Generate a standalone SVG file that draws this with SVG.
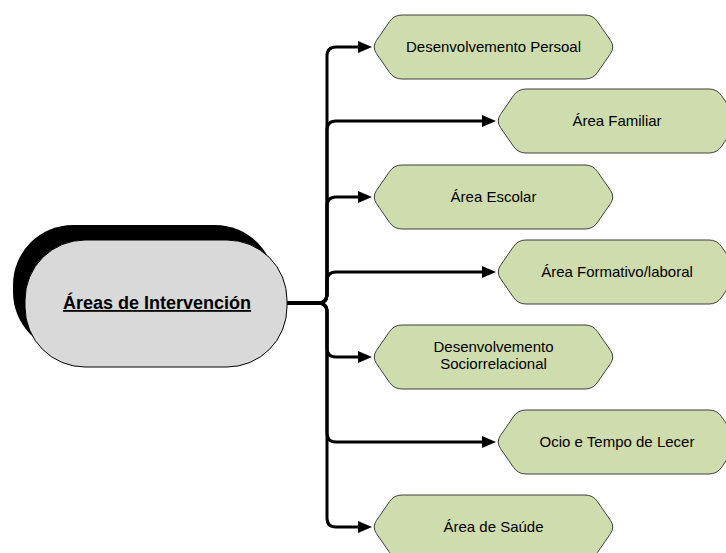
<svg xmlns="http://www.w3.org/2000/svg" width="726" height="553" viewBox="0 0 726 553">
<style>
.hex{fill:#cfdcad;stroke:#3f3f3f;stroke-width:1}
.lbl{font-family:"Liberation Sans",Arial,sans-serif;font-size:15px;fill:#000;text-anchor:middle}
.title{font-family:"Liberation Sans",Arial,sans-serif;font-size:18px;font-weight:bold;fill:#000;text-anchor:middle;text-decoration:underline}
.con{fill:none;stroke:#000;stroke-width:3;marker-end:url(#arr)}
</style>
<defs>
<path id="hx" d="M4.5,25.4 L17.5,6.6 Q22,0 30,0 L213,0 Q221,0 225.5,6.6 L238.5,25.4 Q243,32 238.5,38.6 L225.5,57.4 Q221,64 213,64 L30,64 Q22,64 17.5,57.4 L4.5,38.6 Q0,32 4.5,25.4 Z"/>
<marker id="arr" markerUnits="userSpaceOnUse" markerWidth="16" markerHeight="14" refX="6" refY="6" orient="auto" overflow="visible">
<path d="M0,0 L14,6 L0,12 Z" fill="#000"/>
</marker>
</defs>
<g id="connectors">
<path class="con" d="M287,303 L318,303 Q327,303 327,294 L327,56 Q327,47 336,47 L364,47"/>
<path class="con" d="M287,303 L318,303 Q327,303 327,294 L327,130 Q327,121 336,121 L488,121"/>
<path class="con" d="M287,303 L318,303 Q327,303 327,294 L327,206 Q327,197 336,197 L364,197"/>
<path class="con" d="M287,303 L318,303 Q327,303 327,294 L327,281 Q327,272 336,272 L488,272"/>
<path class="con" d="M287,303 L318,303 Q327,303 327,312 L327,348 Q327,357 336,357 L364,357"/>
<path class="con" d="M287,303 L318,303 Q327,303 327,312 L327,433 Q327,442 336,442 L488,442"/>
<path class="con" d="M287,303 L318,303 Q327,303 327,312 L327,518 Q327,527 336,527 L364,527"/>
</g>
<g id="center">
<rect x="13" y="225" width="262" height="127" rx="60" ry="60" fill="#000"/>
<rect x="25" y="240" width="262" height="127" rx="60" ry="60" fill="#d9d9d9" stroke="#000" stroke-width="1"/>
<text class="title" x="157" y="309">Áreas de Intervención</text>
</g>
<g id="n1" transform="translate(372,15)">
<use href="#hx" class="hex"/>
<text class="lbl" x="121.5" y="37">Desenvolvemento Persoal</text>
</g>
<g id="n2" transform="translate(496,89)">
<use href="#hx" class="hex"/>
<text class="lbl" x="121" y="37">Área Familiar</text>
</g>
<g id="n3" transform="translate(372,165)">
<use href="#hx" class="hex"/>
<text class="lbl" x="121.5" y="37">Área Escolar</text>
</g>
<g id="n4" transform="translate(496,240)">
<use href="#hx" class="hex"/>
<text class="lbl" x="121" y="37">Área Formativo/laboral</text>
</g>
<g id="n5" transform="translate(372,325)">
<use href="#hx" class="hex"/>
<text class="lbl" x="121.5" y="27">Desenvolvemento</text>
<text class="lbl" x="121.5" y="44">Sociorrelacional</text>
</g>
<g id="n6" transform="translate(496,410)">
<use href="#hx" class="hex"/>
<text class="lbl" x="121" y="37">Ocio e Tempo de Lecer</text>
</g>
<g id="n7" transform="translate(372,495)">
<use href="#hx" class="hex"/>
<text class="lbl" x="121.5" y="37">Área de Saúde</text>
</g>
</svg>
